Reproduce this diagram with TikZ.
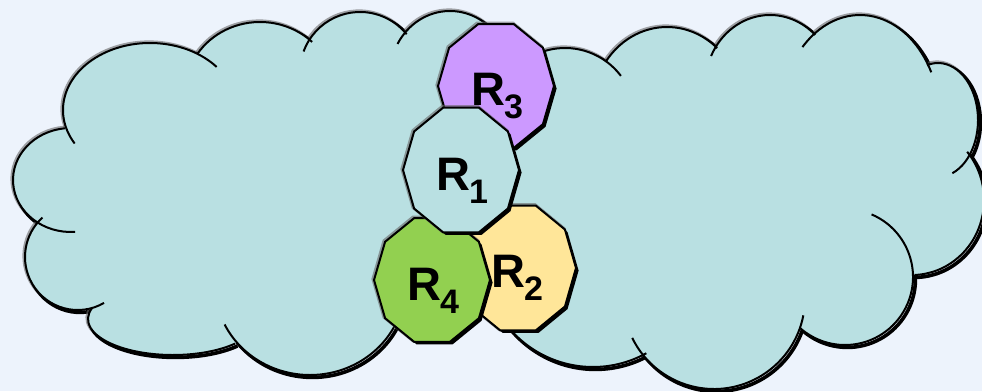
\documentclass[tikz,border=0pt]{standalone}
\usepackage{fontspec}
\setmainfont{Liberation Sans}
\definecolor{bgcol}{HTML}{EDF3FC}
\definecolor{cloudcol}{HTML}{B9E0E2}
\definecolor{violetcol}{HTML}{CC99FF}
\definecolor{greencol}{HTML}{92D050}
\definecolor{yellowcol}{HTML}{FFE699}
\tikzset{
  outline/.style={draw=black, line width=2pt},
  glowline/.style={draw=black!60, line width=3.2pt, opacity=0.6},
  dropline/.style={draw=black, line width=3.6pt},
  lbl/.style={anchor=base west, inner sep=0pt, font=\fontsize{47}{47}\selectfont\bfseries},
}
\newcommand{\subdigit}[1]{\raisebox{-13pt}{\fontsize{34}{34}\selectfont #1}}
% regular decagon with flat top and bottom edges
\newcommand{\decagonpath}[4]{({#1+#3},#2)
  \foreach \t in {36,72,...,324}{ -- ({#1+#3*cos(\t)},{#2+#4*sin(\t)})} -- cycle}
\newcommand{\drawdecagon}[5]{%
  \draw[glowline] [shift={(-1,-1)}] \decagonpath{#1}{#2}{#3}{#4};
  \fill[black] [shift={(2.6,2.6)}] \decagonpath{#1}{#2}{#3}{#4};
  \draw[outline, fill=#5] \decagonpath{#1}{#2}{#3}{#4};
}
% cloud bumps: centre x / centre y / x radius / y radius / start angle / end angle
\newcommand{\bumps}{%
  150/110/87/67/150/320,
  71/180/58/52/86/264,
  77.7/257/52.7/53/60/228,
  173/319/85/36/43/198,
  310/285/95/90/0/154,
  260/93/75/71/213/314,
  360/72/60/60/200/321,
  450/75/60/64/209/320,
  565/118/70/70/230/323,
  667/109/75/82/215/312,
  770/86/65/71/205/314,
  860/120/80/105/224/333,
  938/120/40/57/-106/69,
  912/200/72/75/-40/88,
  845/277/68/68/-67/131,
  714/298/91/91/11/154,
  593/257/110/110/61/160}
\begin{document}
\begin{tikzpicture}[x=1pt,y=-1pt]
  \useasboundingbox (0,0) rectangle (982,391);
  \clip (0,0) rectangle (982,391);
  \fill[bgcol] (0,0) rectangle (982,391);

  % cloud: soft edge and drop shadow under the outline
  \foreach \cx/\cy/\rx/\ry/\a/\b in \bumps {
    \draw[glowline] ({\cx-1+\rx*cos(\a)},{\cy-1+\ry*sin(\a)})
      arc[start angle=\a, end angle=\b, x radius=\rx, y radius=\ry];
    \draw[dropline] ({\cx+2.4+\rx*cos(\a)},{\cy+2.4+\ry*sin(\a)})
      arc[start angle=\a, end angle=\b, x radius=\rx, y radius=\ry];
  }
  % cloud body
  \foreach \cx/\cy/\rx/\ry/\a/\b in \bumps {
    \fill[cloudcol] (\cx,\cy) ellipse[x radius=\rx, y radius=\ry];
  }
  \fill[cloudcol] (150,110) -- (67,133) -- (71,180) -- (46,224) -- (77,257)
    -- (93,305) -- (173,319) -- (232,340) -- (310,285) -- (420,280) -- (461,170)
    -- (496,86) -- (450,75) -- (408,35) -- (360,72) -- (312,43) -- (260,93)
    -- (199,56) -- cycle;
  \fill[cloudcol] (565,118) -- (607,63) -- (667,109) -- (717,48) -- (770,86)
    -- (813,38) -- (860,120) -- (926,68) -- (938,120) -- (969,151) -- (912,200)
    -- (913,273) -- (845,277) -- (797,331) -- (714,298) -- (643,352) -- (593,257)
    -- (518,268) -- (461,170) -- (496,86) -- cycle;
  % cloud outline
  \foreach \cx/\cy/\rx/\ry/\a/\b in \bumps {
    \draw[outline] ({\cx+\rx*cos(\a)},{\cy+\ry*sin(\a)})
      arc[start angle=\a, end angle=\b, x radius=\rx, y radius=\ry];
  }

  % regions
  \coordinate (cR3) at (496,86);
  \coordinate (cR2) at (518,268);
  \coordinate (cR4) at (432,280);
  \coordinate (cR1) at (461,170);
  \drawdecagon{496}{86}{58}{65}{violetcol}
  \drawdecagon{518}{268}{58}{65.5}{yellowcol}
  \drawdecagon{432}{280}{58}{65}{greencol}
  \drawdecagon{461}{170}{58}{65.5}{cloudcol}

  \node[lbl] (lblR3) at (471.5,105) {R\kern-1.5pt\subdigit{3}};
  \node[lbl] (lblR1) at (436.5,190) {R\kern-1.5pt\subdigit{1}};
  \node[lbl] (lblR4) at (407.5,300) {R\kern-1.5pt\subdigit{4}};
  \node[lbl] (lblR2) at (491.5,287) {R\kern-1.5pt\subdigit{2}};
\end{tikzpicture}
\end{document}
